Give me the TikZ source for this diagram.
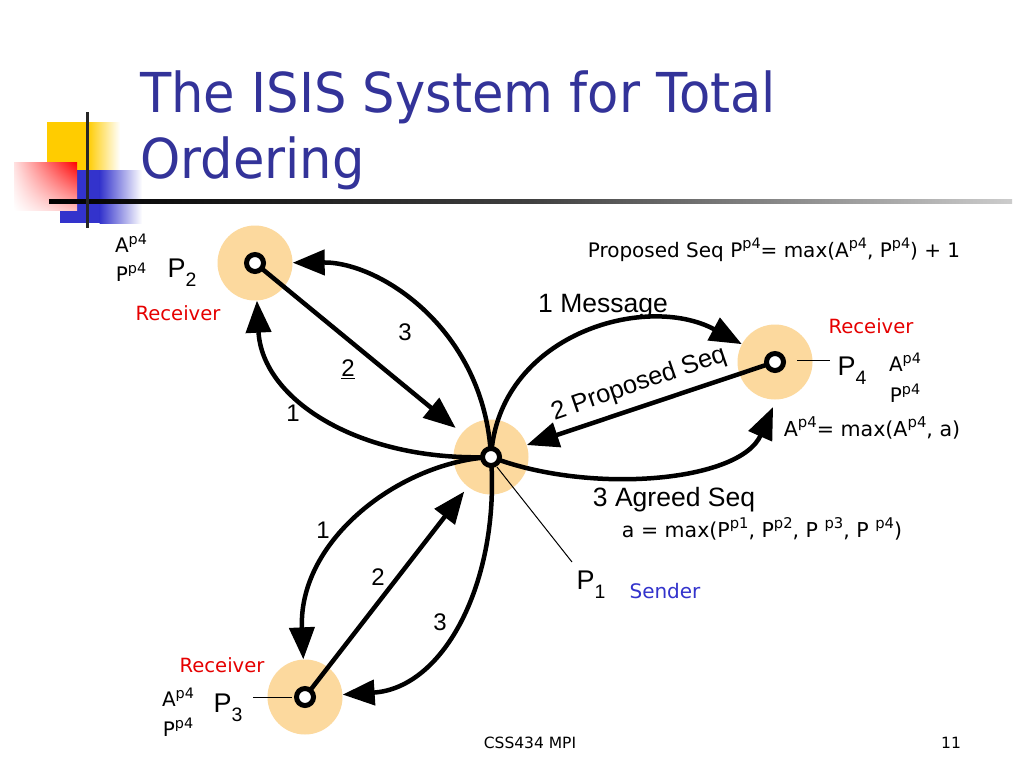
\documentclass[tikz,border=0pt]{standalone}
\usepackage{fontspec}
\usepackage{graphicx}
\setmainfont{Liberation Sans}
\newfontfamily\tahT[FakeStretch=0.93]{DejaVu Sans}
\newfontfamily\tah{DejaVu Sans}
\usetikzlibrary{arrows.meta,shadings}
\definecolor{titleblue}{RGB}{51,51,153}
\definecolor{diskc}{RGB}{252,217,158}
\definecolor{recred}{RGB}{230,0,0}
\definecolor{sendblue}{RGB}{51,51,204}
\definecolor{decyellow}{RGB}{255,204,0}
\definecolor{decblue}{RGB}{51,51,204}
\newcommand\supr[1]{\raisebox{0.42em}{\scalebox{0.72}{#1}}}
\newcommand\subr[1]{\raisebox{-0.32em}{\scalebox{0.72}{#1}}}
\begin{document}
\begin{tikzpicture}[x=1pt,y=-1pt,
  disknode/.style={circle, fill=diskc, minimum size=75pt, inner sep=0pt},
  dot/.style={circle, draw=black, line width=5pt, fill=white, minimum size=17pt, inner sep=0pt},
  conn/.style={line width=4.5pt, -{Triangle[length=32pt,width=25pt]}},
  thinline/.style={line width=1pt},
  lblA/.style={font=\fontsize{26.5}{30}\selectfont, inner sep=0pt},
  lblP/.style={font=\fontsize{27}{30}\selectfont, inner sep=0pt},
  lblT/.style={font=\tah\fontsize{20}{22}\selectfont, inner sep=0pt},
  lblR/.style={font=\tah\fontsize{19.6}{22}\selectfont, inner sep=0pt, text=recred},
  num/.style={font=\fontsize{24}{26}\selectfont, inner sep=0pt}]
\useasboundingbox (0,0) rectangle (1024,768);
\fill[white] (0,0) rectangle (1024,768);
% decoration
\fill[decyellow] (47,122) rectangle (88,190);
\shade[left color=decyellow, right color=white] (87.5,122) rectangle (120,190);
\fill[decblue] (60,170) rectangle (100,223);
\shade[left color=decblue, right color=white] (99.5,170) rectangle (142,223);
\shade[upper right=red, upper left=red!12, lower right=red!25, lower left=white] (14,162) rectangle (77,210);
\shade[left color=black, right color=black!20, middle color=black!75] (49,199) rectangle (1012,203);
\fill[black!85] (85.5,112) rectangle (89,228);
% title
\node[anchor=base west, font=\tahT\fontsize{55}{60}\selectfont, text=titleblue, inner sep=0pt] (t1) at (140,112) {The ISIS System for Total};
\node[anchor=base west, font=\tahT\fontsize{55}{60}\selectfont, text=titleblue, inner sep=0pt] (t2) at (140,178) {Ordering};
% disks
\node[disknode] (p1d) at (491,457) {};
\node[disknode] (p2d) at (255,263) {};
\node[disknode] (p3d) at (305,697) {};
\node[disknode] (p4d) at (775,362) {};
\coordinate (p1) at (491,457);
\coordinate (p2) at (255,263);
\coordinate (p3) at (305,697);
\coordinate (p4) at (775,362);
% connectors P1-P2
\draw[conn] (p1) .. controls (360,462) and (262,400) .. (p2d);
\draw[conn, shorten >=8pt] (p2) -- (p1d);
\draw[conn] (p1) .. controls (485,330) and (380,262) .. (p2d);
% connectors P1-P4
\draw[conn] (p1) .. controls (498,335) and (645,292) .. (p4d);
\draw[conn] (p4) -- (p1d);
\draw[conn, shorten >=8pt] (p1) .. controls (590,495) and (740,482) .. (p4d.272);
% connectors P1-P3
\draw[conn] (p1) .. controls (400,462) and (298,540) .. (p3d);
\draw[conn, shorten >=6pt] (p3) -- (p1d);
\draw[conn] (p1) .. controls (500,580) and (445,688) .. (p3d);
% dots
\node[dot] (p1c) at (p1) {};
\node[dot] (p2c) at (p2) {};
\node[dot] (p3c) at (p3) {};
\node[dot] (p4c) at (p4) {};
% leader lines
\coordinate (l1a) at (497,467);
\coordinate (l1b) at (572,562);
\draw[thinline] (l1a) -- (l1b);
\coordinate (l4a) at (797,360);
\coordinate (l4b) at (830,360);
\draw[thinline] (l4a) -- (l4b);
\coordinate (l3a) at (253,697);
\coordinate (l3b) at (292,697);
\draw[thinline] (l3a) -- (l3b);
% number labels
\node[num] (n21) at (293,413) {1};
\node[num] (n22) at (348,369) {\underline{2}};
\node[num] (n23) at (405,332) {3};
\node[num] (n31) at (323,530) {1};
\node[num] (n32) at (378,577) {2};
\node[num] (n33) at (440,622) {3};
% P4 side labels
\node[lblA] (m1) at (603,306) {1 Message};
\node[lblA, rotate=19, font=\fontsize{25.5}{28}\selectfont] (m2) at (639,384) {2 Proposed Seq};
\node[lblA] (m3) at (674,500) {3 Agreed Seq};
\node[lblT, font=\tah\fontsize{20.5}{22}\selectfont] (fa) at (762,529) {a = max(P\supr{p1}, P\supr{p2}, P \supr{p3}, P \supr{p4})};
\node[lblT] (fp) at (774,250) {Proposed Seq P\supr{p4}= max(A\supr{p4}, P\supr{p4}) + 1};
% P2 labels
\node[lblT] (a2) at (131,243) {A\supr{p4}};
\node[lblT] (b2) at (131,272) {P\supr{p4}};
\node[lblP] (p2l) at (182,273) {P\subr{2}};
\node[lblR] (r2) at (178,313) {Receiver};
% P4 labels
\node[lblR] (r4) at (871,326) {Receiver};
\node[lblP] (p4l) at (852,371) {P\subr{4}};
\node[lblT] (a4) at (905,362) {A\supr{p4}};
\node[lblT] (b4) at (905,393) {P\supr{p4}};
\node[lblT, font=\tah\fontsize{20.6}{22}\selectfont] (f4) at (872,428) {A\supr{p4}= max(A\supr{p4}, a)};
% P1 labels
\node[lblP] (p1l) at (591,585) {P\subr{1}};
\node[lblR, text=sendblue, font=\tah\fontsize{20}{22}\selectfont] (s1) at (665,591) {Sender};
% P3 labels
\node[lblR] (r3) at (222,665) {Receiver};
\node[lblT] (a3) at (178,697) {A\supr{p4}};
\node[lblT] (b3) at (178,727) {P\supr{p4}};
\node[lblP] (p3l) at (228,708) {P\subr{3}};
% footer
\node[font=\tah\fontsize{15.5}{18}\selectfont, inner sep=0pt] (ft) at (530,743) {CSS434 MPI};
\node[font=\tah\fontsize{15.5}{18}\selectfont, inner sep=0pt] (pg) at (951,743) {11};
\end{tikzpicture}
\end{document}
